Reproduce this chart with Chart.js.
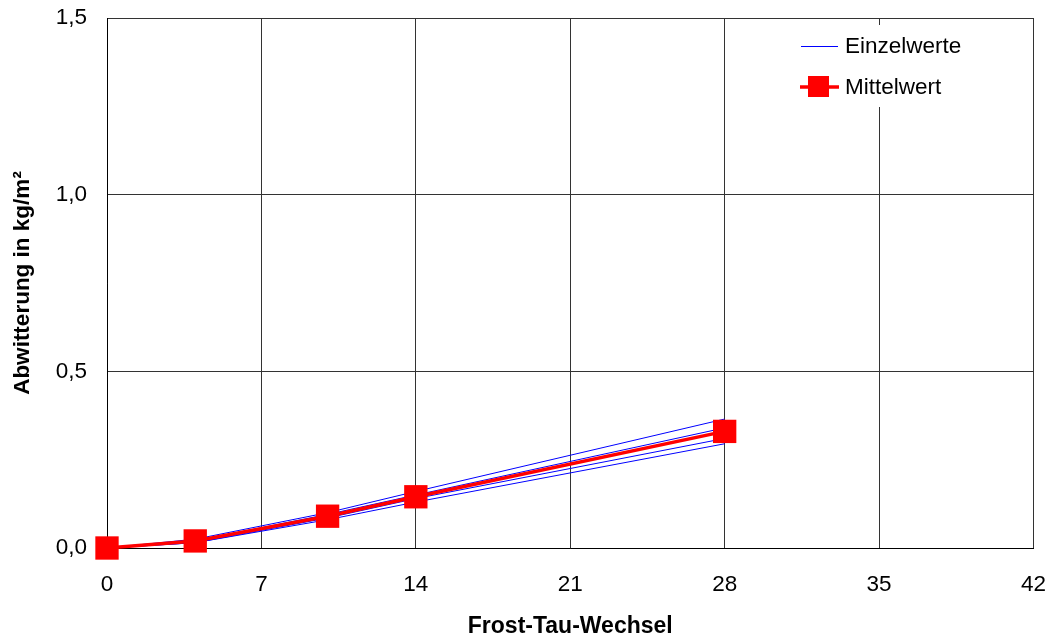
<!DOCTYPE html>
<html>
<head>
<meta charset="utf-8">
<script src="https://cdn.jsdelivr.net/npm/chart.js@4"></script>
<style>
  html, body { margin: 0; padding: 0; background: #fff; }
  #wrap { width: 1050px; height: 636px; }
</style>
</head>
<body>
<div id="wrap"><canvas id="chart" width="1050" height="636"></canvas></div>
<script>
// Frost-Tau-Wechsel (x) and Abwitterung in kg/m² (y)
const cycles = [0, 4, 10, 14, 28];
const einzel1 = [0, 0.025, 0.100, 0.160, 0.365];
const einzel2 = [0, 0.020, 0.095, 0.150, 0.340];
const einzel3 = [0, 0.015, 0.085, 0.140, 0.310];
const einzel4 = [0, 0.015, 0.080, 0.130, 0.295];
const mittel = [0, 0.020, 0.090, 0.145, 0.330];
const xTicks = [0, 7, 14, 21, 28, 35, 42];
const yTicks = [0, 0.5, 1.0, 1.5];

const FONT = '"Liberation Sans", Arial, sans-serif';

const toPoints = vals => cycles.map((c, i) => ({ x: c, y: vals[i] }));

const blueLine = vals => ({
  label: 'Einzelwerte',
  data: toPoints(vals),
  borderColor: '#0000ff',
  borderWidth: 1,
  pointRadius: 0,
  clip: false,
  order: 2
});

// legend inside the plot, with white box
const boxLegend = {
  id: 'boxLegend',
  afterDraw(chart) {
    const c = chart.ctx;
    c.save();
    c.fillStyle = '#fff';
    c.fillRect(790, 25, 200, 82);
    c.font = '22.5px ' + FONT;
    c.textBaseline = 'middle';
    c.fillStyle = '#000';
    c.strokeStyle = '#0000ff';
    c.lineWidth = 1;
    c.beginPath();
    c.moveTo(801, 46.5);
    c.lineTo(838, 46.5);
    c.stroke();
    c.fillText('Einzelwerte', 845, 47);
    c.strokeStyle = '#ff0000';
    c.lineWidth = 3.5;
    c.beginPath();
    c.moveTo(800, 87);
    c.lineTo(839, 87);
    c.stroke();
    c.fillStyle = '#ff0000';
    c.fillRect(808, 76, 21, 21);
    c.fillStyle = '#000';
    c.fillText('Mittelwert', 845, 88);
    c.restore();
  }
};

const ctx = document.getElementById('chart').getContext('2d');
new Chart(ctx, {
  type: 'line',
  data: {
    datasets: [
      blueLine(einzel1),
      blueLine(einzel2),
      blueLine(einzel3),
      blueLine(einzel4),
      {
        label: 'Mittelwert',
        data: toPoints(mittel),
        borderColor: '#ff0000',
        backgroundColor: '#ff0000',
        borderWidth: 3.5,
        pointStyle: 'rect',
        pointRadius: 16.5,
        pointBorderWidth: 0,
        clip: false,
        order: 1
      }
    ]
  },
  options: {
    responsive: false,
    animation: false,
    layout: { padding: { top: 18, right: 16, left: 0, bottom: 0 } },
    plugins: {
      legend: { display: false },
      tooltip: { enabled: false }
    },
    scales: {
      x: {
        type: 'linear',
        min: 0,
        max: 42,
        afterBuildTicks: axis => { axis.ticks = xTicks.map(v => ({ value: v })); },
        afterFit: axis => {
          axis.height = 88;
          axis.paddingLeft = 0;
          axis.paddingRight = 0;
        },
        grid: { color: '#333', lineWidth: 1, drawTicks: false },
        border: { color: '#000', width: 1 },
        ticks: {
          padding: 23,
          color: '#000',
          font: { family: FONT, size: 22.5 }
        },
        title: {
          display: true,
          text: 'Frost-Tau-Wechsel',
          color: '#000',
          padding: { top: 0, bottom: -4 },
          font: { family: FONT, size: 23, weight: 'bold' }
        }
      },
      y: {
        type: 'linear',
        min: 0,
        max: 1.5,
        afterBuildTicks: axis => { axis.ticks = yTicks.map(v => ({ value: v })); },
        afterFit: axis => {
          axis.width = 107;
          axis.paddingTop = 0;
          axis.paddingBottom = 0;
        },
        grid: { color: '#333', lineWidth: 1, drawTicks: false },
        border: { color: '#000', width: 1 },
        ticks: {
          padding: 20,
          color: '#000',
          font: { family: FONT, size: 22.5 },
          callback: v => v.toFixed(1).replace('.', ',')
        },
        title: {
          display: true,
          text: 'Abwitterung in kg/m²',
          color: '#000',
          padding: { top: 9, bottom: 0 },
          font: { family: FONT, size: 22.5, weight: 'bold' }
        }
      }
    }
  },
  plugins: [boxLegend]
});
</script>
</body>
</html>
